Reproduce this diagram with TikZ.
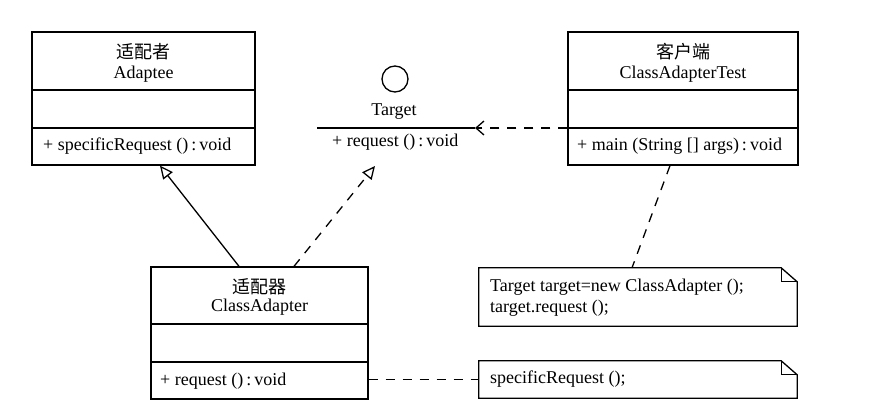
\documentclass[tikz,border=0pt]{standalone}
\usepackage{fontspec}
\setmainfont{Liberation Serif}
\newfontfamily\cjk{Noto Sans CJK SC}
\usetikzlibrary{arrows.meta}
\begin{document}
\begin{tikzpicture}[x=1pt,y=-1pt,
  every node/.style={font=\fontsize{18}{21}\selectfont},
  lw/.style={line width=1.3pt},
  classbox/.style={draw,lw,inner sep=0pt},
  notebox/.style={inner sep=0pt},
  lbl/.style={inner sep=0pt},
  ltxt/.style={inner sep=0pt,anchor=west},
  dsh/.style={lw,dash pattern=on 9pt off 8pt},
  gen/.style={-{Triangle[open,length=13pt,width=12pt,line width=1.3pt]}},
  dep/.style={-{Straight Barb[length=8pt,width=14pt,line width=1.3pt]}}]
\useasboundingbox (0,0) rectangle (889,418);
\fill[white] (0,0) rectangle (889,418);

% Adaptee
\node[classbox,minimum width=223pt,minimum height=133pt] (adaptee) at (143.5,98.5) {};
\draw[lw] (32,90) -- (255,90);
\draw[lw] (32,128) -- (255,128);
\node[lbl] (adcn) at (143.5,52) {\cjk 适配者};
\node[lbl] (aden) at (143.5,74) {Adaptee};
\node[ltxt] (adm) at (43,146) {+ specificRequest ()\,:\,void};

% Client
\node[classbox,minimum width=230pt,minimum height=133pt] (client) at (683,98.5) {};
\draw[lw] (568,90) -- (798,90);
\draw[lw] (568,128) -- (798,128);
\node[lbl] (clcn) at (683,52) {\cjk 客户端};
\node[lbl] (clen) at (683,74) {ClassAdapterTest};
\node[ltxt] (clm) at (577,146) {+ main (String [] args)\,:\,void};

% Target interface
\node[draw,lw,circle,minimum size=26pt,inner sep=0pt] (tcirc) at (395,79) {};
\node[lbl] (tname) at (394,112) {Target};
\coordinate (tl) at (317,128);
\coordinate (tr) at (475,128);
\draw[lw] (tl) -- (tr);
\node[ltxt] (tm) at (332,142) {+ request ()\,:\,void};
\coordinate (tgt) at (375,166);

% ClassAdapter
\node[classbox,minimum width=217pt,minimum height=132pt] (ca) at (259.5,333) {};
\draw[lw] (151,324) -- (368,324);
\draw[lw] (151,362) -- (368,362);
\node[lbl] (cacn) at (259.5,287) {\cjk 适配器};
\node[lbl] (caen) at (259.5,307) {ClassAdapter};
\node[ltxt] (cam) at (160,381) {+ request ()\,:\,void};

% Notes
\node[notebox,minimum width=318pt,minimum height=58pt] (n1) at (638,297) {};
\draw[lw] (n1.north west) -- ([xshift=-16pt]n1.north east) -- ([yshift=-14pt]n1.north east) -- (n1.south east) -- (n1.south west) -- cycle;
\draw[lw] ([xshift=-16pt]n1.north east) |- ([yshift=-14pt]n1.north east);
\node[ltxt] (n1a) at (490,287) {Target target=new ClassAdapter ();};
\node[ltxt] (n1b) at (490,308) {target.request ();};

\node[notebox,minimum width=318pt,minimum height=37pt] (n2) at (638,379.5) {};
\draw[lw] (n2.north west) -- ([xshift=-16pt]n2.north east) -- ([yshift=-14pt]n2.north east) -- (n2.south east) -- (n2.south west) -- cycle;
\draw[lw] ([xshift=-16pt]n2.north east) |- ([yshift=-14pt]n2.north east);
\node[ltxt] (n2a) at (490,379) {specificRequest ();};

% Connectors
\draw[lw,gen] ([xshift=-20.5pt]ca.north) -- ([xshift=16.5pt]adaptee.south);
\draw[dsh,gen] ([xshift=34.5pt]ca.north) -- (tgt);
\draw[dsh,dep] (client.west |- tr) -- (tr);
\draw[dsh] ([xshift=-13pt]client.south) -- ([xshift=-6pt]n1.north);
\draw[dsh] (ca.east |- n2.west) -- (n2.west);
\end{tikzpicture}
\end{document}
